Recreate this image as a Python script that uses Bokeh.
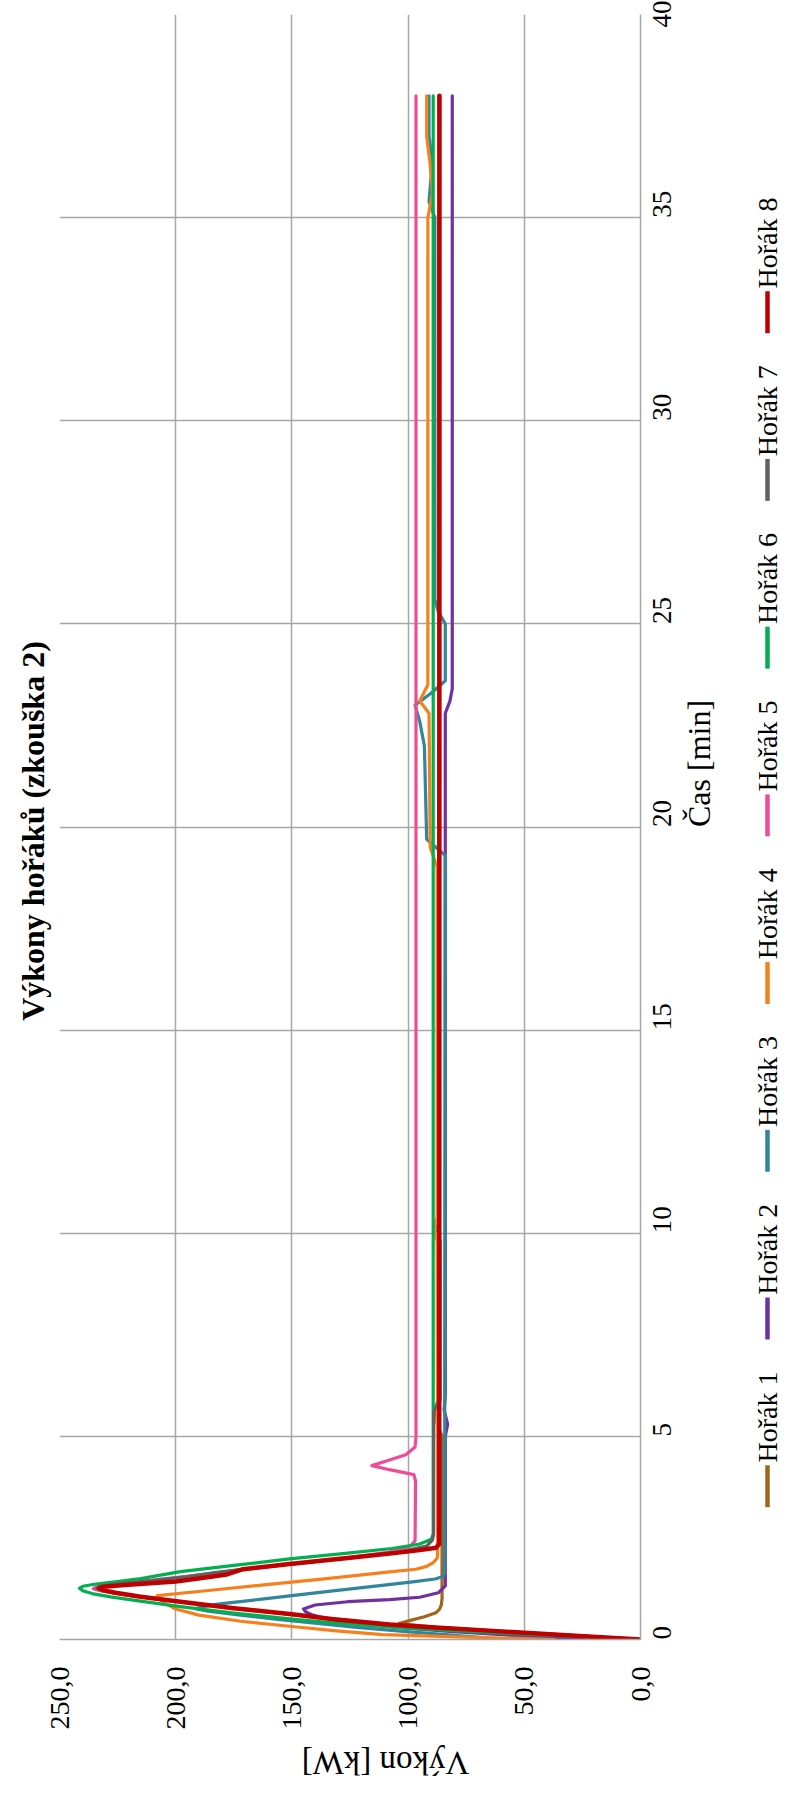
import math
from bokeh.plotting import figure
from bokeh.models import FixedTicker, Range1d
from bokeh.layouts import row, column
from bokeh.embed import file_html
from bokeh.resources import INLINE
from bokeh.core.properties import value

FONT = "Liberation Serif"

# ---------------- data ----------------
title_text = "Výkony hořáků  (zkouška 2)"
x_title = "Čas [min]"
y_title = "Výkon [kW]"

time_ticks = [0, 5, 10, 15, 20, 25, 30, 35, 40]
power_ticks = [0, 50, 100, 150, 200, 250]
power_tick_labels = ["0,0", "50,0", "100,0", "150,0", "200,0", "250,0"]

names = ["Hořák 1", "Hořák 2", "Hořák 3", "Hořák 4",
         "Hořák 5", "Hořák 6", "Hořák 7", "Hořák 8"]
colors = ["#A0661C", "#7030A0", "#31869C", "#F7801E",
          "#EE4C96", "#00B050", "#606060", "#C00000"]

# time [min]
h1_t = [0, 0.1, 0.2, 0.3, 0.39, 0.47, 0.56, 0.66, 0.74, 0.85, 1.0, 1.5, 5.0, 5.3, 5.6, 5.9, 9.8, 10.1, 10.4, 38.0]
# power [kW]
h1_p = [0, 30, 60, 88, 104, 99, 93, 88, 86.5, 85.7, 85.4, 85.4, 85.4, 87.5, 87.8, 86.2, 86.2, 87.5, 86.5, 86.5]

h2_t = [0, 0.1, 0.2, 0.3, 0.4, 0.5, 0.6, 0.68, 0.75, 0.85, 0.93, 0.98, 1.04, 1.15, 1.32, 1.5,
        5.0, 5.3, 5.65, 6.0, 22.8, 23.1, 23.4, 38.0]
h2_p = [24, 55, 82, 105, 122, 134, 141, 144, 145, 140, 126, 108, 95, 87, 84, 84,
        84, 83, 84.5, 84, 84, 82, 81, 81]

h3_t = [0, 0.1, 0.2, 0.3, 0.4, 0.5, 0.6, 0.7, 0.76, 0.82, 0.87, 1.0, 1.16, 1.3, 1.42, 1.49, 1.55, 1.65,
        19.3, 19.7, 22.0, 22.6, 23.0, 23.3, 23.6, 25.0, 25.3, 25.6, 35.0, 35.4, 36.4, 37.0, 38.0]
h3_p = [57, 80, 102, 122, 140, 157, 172, 186, 191.5, 187, 182, 162, 138, 116, 98, 88.4, 85, 84.3,
        84, 92, 93, 95, 97, 90, 84, 84, 87, 88.5, 88.5, 91, 89.5, 91, 91]

h4_t = [0, 0.06, 0.12, 0.22, 0.32, 0.45, 0.6, 0.75, 0.9, 1.0, 1.08, 1.2, 1.35, 1.5, 1.67, 1.73, 1.8, 1.9,
        2.0, 2.1, 9.8, 10.1, 10.4, 19.0, 19.5, 22.8, 23.1, 23.5, 35.0, 35.6, 36.3, 37.0, 38.0]
h4_p = [37, 75, 111, 132, 150, 172, 190, 200, 205, 207, 208, 187, 161, 135, 107, 96.6, 92, 89,
        87.5, 87.3, 87.5, 89, 87.5, 87.5, 90.5, 91, 95, 91.5, 91.5, 89.5, 90.5, 92, 92]

h5_t = [0, 0.1, 0.2, 0.3, 0.37, 0.5, 0.62, 0.77, 0.93, 1.05, 1.15, 1.21, 1.25, 1.3, 1.36, 1.45, 1.55,
        1.7, 1.85, 2.0, 2.15, 2.3, 2.43, 3.9, 4.06, 4.18, 4.28, 4.4, 4.55, 4.74, 5.0, 38.0]
h5_p = [0, 30, 60, 90, 108, 132, 150, 175, 198, 215, 227, 233, 235.5, 234, 227, 212, 196,
        174, 152, 128, 108, 99, 97, 96.8, 97.5, 108, 115.6, 109, 101, 97, 96.6, 96.6]

h6_t = [0, 0.1, 0.2, 0.3, 0.4, 0.5, 0.65, 0.81, 0.95, 1.05, 1.13, 1.2, 1.26, 1.31, 1.36, 1.42, 1.5,
        1.67, 1.83, 1.99, 2.12, 2.24, 2.35, 2.47, 2.6, 38.0]
h6_p = [0, 38, 75, 105, 130, 150, 175, 198, 216, 228, 236, 240, 241.4, 240, 235, 226, 215,
        198, 174, 150, 127, 107, 95, 90, 89.2, 89.2]

h7_t = [0, 0.1, 0.2, 0.3, 0.37, 0.5, 0.62, 0.77, 0.93, 1.05, 1.15, 1.21, 1.26, 1.31, 1.37, 1.45, 1.55,
        1.65, 1.75, 1.85, 2.0, 2.15, 2.3, 2.45, 2.6, 5.6, 5.9, 38.0]
h7_p = [0, 30, 60, 90, 108, 132, 150, 175, 198, 215, 227, 232, 234, 232.5, 225, 210, 195,
        183, 168, 152, 127, 104, 92, 89.5, 89, 89, 86.8, 86.8]

h8_t = [0, 0.1, 0.2, 0.3, 0.37, 0.5, 0.62, 0.77, 0.93, 1.05, 1.15, 1.21, 1.26, 1.3, 1.34, 1.43, 1.52,
        1.6, 1.66, 1.73, 1.85, 2.0, 2.12, 2.2, 2.26, 2.35, 38.0]
h8_p = [0, 30, 60, 90, 108, 132, 150, 175, 198, 215, 226, 231, 233, 231, 222, 200, 188,
        178, 175, 171, 152, 127, 107, 95, 88, 86.6, 86.5]

series_t = [h1_t, h2_t, h3_t, h4_t, h5_t, h6_t, h7_t, h8_t]
series_p = [h1_p, h2_p, h3_p, h4_p, h5_p, h6_p, h7_p, h8_p]
line_widths = [3.2, 3.2, 3.2, 3.2, 3.2, 3.2, 3.2, 4.5]

# ---------------- main chart (rotated 90° CCW) ----------------
GRID = "#A6A6A6"
MAIN_H = 1744
p = figure(width=744, height=MAIN_H,
           x_range=Range1d(250, 0), y_range=Range1d(0, 40),
           x_axis_location="below", y_axis_location="right",
           output_backend="svg", toolbar_location=None,
           min_border_left=59, min_border_right=104,
           min_border_top=14, min_border_bottom=105,
           title=title_text, title_location="left")
p.outline_line_color = None
p.background_fill_color = "white"

p.title.text_font = FONT
p.title.text_font_size = "32px"
p.title.text_font_style = "bold"
p.title.text_color = "black"
p.title.align = "center"
p.title.standoff = 17

xa = p.xaxis[0]
xa.ticker = FixedTicker(ticks=power_ticks)
xa.major_label_overrides = {t: l for t, l in zip(power_ticks, power_tick_labels)}
xa.major_label_orientation = math.pi / 2
xa.major_tick_in = 0
xa.major_tick_out = 0
xa.minor_tick_in = 0
xa.minor_tick_out = 0
xa.major_label_standoff = 27
xa.major_label_text_font = FONT
xa.major_label_text_font_size = "28px"
xa.major_label_text_color = "black"
xa.axis_line_color = GRID
xa.axis_line_width = 1.5

ya = p.yaxis[0]
ya.ticker = FixedTicker(ticks=time_ticks)
ya.major_label_orientation = math.pi / 2
ya.major_tick_in = 0
ya.major_tick_out = 0
ya.minor_tick_in = 0
ya.minor_tick_out = 0
ya.major_label_standoff = 21
ya.major_label_text_font = FONT
ya.major_label_text_font_size = "27px"
ya.major_label_text_color = "black"
ya.axis_line_color = GRID
ya.axis_line_width = 1.5
ya.axis_label = x_title
ya.axis_label_text_font = FONT
ya.axis_label_text_font_size = "32px"
ya.axis_label_text_font_style = "normal"
ya.axis_label_text_color = "black"
ya.axis_label_standoff = 16
try:
    ya.axis_label_orientation = math.pi / 2
except Exception:
    pass

p.xgrid.ticker = FixedTicker(ticks=[50, 100, 150, 200])
p.ygrid.ticker = FixedTicker(ticks=[5, 10, 15, 20, 25, 30, 35])
p.xgrid.grid_line_color = GRID
p.ygrid.grid_line_color = GRID
p.xgrid.grid_line_width = 1.5
p.ygrid.grid_line_width = 1.5

for t, pw, c, w in zip(series_t, series_p, colors, line_widths):
    p.line(x=pw, y=t, line_color=c, line_width=w, line_join="round", line_cap="round")

# ---------------- legend (rotated, drawn in its own pixel-scaled figure) ----------------
lg = figure(width=38, height=MAIN_H, x_range=Range1d(0, 38), y_range=Range1d(0, MAIN_H),
            x_axis_location=None, y_axis_location=None,
            output_backend="svg", toolbar_location=None,
            min_border_left=0, min_border_right=0, min_border_top=0, min_border_bottom=0)
lg.outline_line_color = None
lg.grid.visible = False

leg_x = [23] * 8
leg_y0 = [142 + 180 * i for i in range(8)]
leg_y1 = [y + 45 for y in leg_y0]
leg_ty = [y + 3 for y in leg_y1]
lg.segment(x0=leg_x, y0=leg_y0, x1=leg_x, y1=leg_y1, line_color=colors, line_width=4.5)
lg.text(x=leg_x, y=leg_ty, text=names, angle=math.pi / 2,
        text_font=value(FONT), text_font_size="28px", text_color="black",
        text_align="left", text_baseline="middle")

# ---------------- power axis title strip (upside down, as in the rotated original) ----------------
bt = figure(width=782, height=42, x_range=Range1d(0, 782), y_range=Range1d(0, 42),
            x_axis_location=None, y_axis_location=None,
            output_backend="svg", toolbar_location=None,
            min_border_left=0, min_border_right=0, min_border_top=0, min_border_bottom=0)
bt.outline_line_color = None
bt.grid.visible = False
bt.text(x=[385], y=[24], text=[y_title], angle=math.pi,
        text_font=value(FONT), text_font_size="33px", text_color="black",
        text_align="center", text_baseline="middle")

layout = column(row(p, lg), bt)
open("out.html", "w").write(file_html(layout, INLINE, title="Výkony hořáků (zkouška 2)"))
